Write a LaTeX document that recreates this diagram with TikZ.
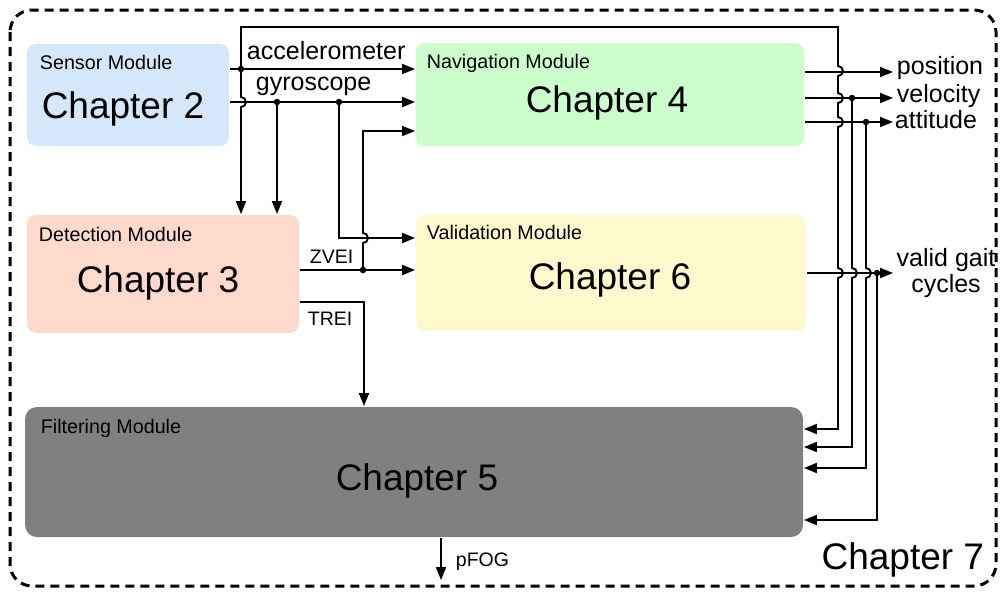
\documentclass[tikz,border=0pt]{standalone}
\usepackage{fontspec}
\setmainfont{Liberation Sans}
\usetikzlibrary{arrows.meta}
\definecolor{sensorc}{RGB}{213,232,250}
\definecolor{detectc}{RGB}{253,218,204}
\definecolor{navc}{RGB}{204,255,204}
\definecolor{validc}{RGB}{255,249,206}
\definecolor{filtc}{RGB}{128,128,128}
\begin{document}
\begin{tikzpicture}[x=1pt,y=-1pt, line width=1.9pt,
  box/.style={rectangle, rounded corners=9pt, draw=none, inner sep=0pt},
  arr/.style={-{Triangle[length=13pt,width=10pt]}},
  dot/.style={circle, fill=black, inner sep=0pt, minimum size=6.5pt},
  modtitle/.style={font=\fontsize{19.7}{22}\selectfont, anchor=base west, inner sep=0pt},
  chap/.style={font=\fontsize{37}{40}\selectfont, anchor=base, inner sep=0pt},
  lbl/.style={font=\fontsize{25}{27}\selectfont, anchor=base west, inner sep=0pt},
  small/.style={font=\fontsize{19.5}{22}\selectfont, anchor=base west, inner sep=0pt}]
\useasboundingbox (0,0) rectangle (1000,592);

% outer frame
\draw[line width=3pt, dash pattern=on 9pt off 6pt, rounded corners=22pt] (10,10) rectangle (996,586);
\node[chap, anchor=base east] (ch7) at (985,569) {Chapter 7};

% boxes
\node[box, fill=sensorc, minimum width=202pt, minimum height=102pt] (sensor) at (128,95) {};
\node[box, fill=detectc, minimum width=272pt, minimum height=118pt] (detect) at (163,274) {};
\node[box, fill=navc, minimum width=388pt, minimum height=103pt] (nav) at (610,94.5) {};
\node[box, fill=validc, minimum width=390pt, minimum height=116pt] (valid) at (611,273) {};
\node[box, fill=filtc, minimum width=778pt, minimum height=130pt, rounded corners=12pt] (filt) at (414,472) {};

% box texts
\node[modtitle] (sensorT) at (39,69) {Sensor Module};
\node[chap] (sensorC) at (123,118) {Chapter 2};
\node[modtitle] (detectT) at (38,241) {Detection Module};
\node[chap] (detectC) at (158,292) {Chapter 3};
\node[modtitle] (navT) at (426,68) {Navigation Module};
\node[chap] (navC) at (607,112) {Chapter 4};
\node[modtitle] (validT) at (426,239) {Validation Module};
\node[chap] (validC) at (610,289) {Chapter 6};
\node[modtitle] (filtT) at (40,433) {Filtering Module};
\node[chap] (filtC) at (417,490) {Chapter 5};

% junction coordinates
\coordinate (jA) at (241,69);
\coordinate (jG1) at (277,102);
\coordinate (jG2) at (339,102);
\coordinate (jZ) at (363,270);
\coordinate (jV) at (852,98);
\coordinate (jT) at (866,122);
\coordinate (jC) at (877,273);
\coordinate (outP) at (893,72);
\coordinate (outV) at (893,98);
\coordinate (outT) at (893,122);
\coordinate (outC) at (893,273);
\coordinate (pfogEnd) at (441,580);

% accelerometer
\draw (sensor.east |- jA) -- (jA);
\draw[arr] (jA) -- (nav.west |- jA);
\node[lbl] (accL) at (246,59) {accelerometer};
% accelerometer to detection (hops over gyroscope)
\draw[arr] (jA) -- (241,97) arc[start angle=90, end angle=-90, radius=5pt] -- (detect.north -| jA);
% accelerometer to filtering (long route)
\draw[arr] (jA) -- (241,27) -- (838,27) -- (838,66)
  arc[start angle=90, end angle=-90, radius=5pt] -- (838,93)
  arc[start angle=90, end angle=-90, radius=5pt] -- (838,117)
  arc[start angle=90, end angle=-90, radius=5pt] -- (838,268)
  arc[start angle=90, end angle=-90, radius=5pt] -- (838,429) -- (filt.east |- 0,429);

% gyroscope
\draw[arr] (sensor.east |- jG1) -- (nav.west |- jG1);
\node[lbl] (gyrL) at (255,90) {gyroscope};
\draw[arr] (jG1) -- (detect.north -| jG1);
\draw[arr] (jG2) -- (339,238) -- (valid.west |- 0,238);

% ZVEI
\draw[arr] (detect.east |- jZ) -- (valid.west |- jZ);
\node[small] (zveiL) at (309,263) {ZVEI};
\draw[arr] (jZ) -- (363,243) arc[start angle=-90, end angle=90, radius=5pt] -- (363,131) -- (nav.west |- 0,131);

% TREI
\draw[arr] (detect.east |- 0,302) -- (364,302) -- (filt.north -| 364,0);
\node[small] (treiL) at (307,325) {TREI};

% navigation outputs
\draw[arr] (nav.east |- outP) -- (outP);
\draw[arr] (nav.east |- outV) -- (outV);
\draw[arr] (nav.east |- outT) -- (outT);
\node[lbl] (posL) at (896,74) {position};
\node[lbl] (velL) at (896,102) {velocity};
\node[lbl] (attL) at (894,128) {attitude};

% validation output
\draw[arr] (valid.east |- outC) -- (outC);
\node[lbl, anchor=base, align=center] (gaitL) at (946,292) {valid gait\\[-1pt]cycles};

% feedback to filtering
\draw[arr] (jV) -- (852,268) arc[start angle=90, end angle=-90, radius=5pt] -- (852,447) -- (filt.east |- 0,447);
\draw[arr] (jT) -- (866,268) arc[start angle=90, end angle=-90, radius=5pt] -- (866,468) -- (filt.east |- 0,468);
\draw[arr] (jC) -- (877,520) -- (filt.east |- 0,520);

% pFOG
\draw[arr] (filt.south -| pfogEnd) -- (pfogEnd);
\node[small] (pfogL) at (455,566) {pFOG};

% dots
\foreach \c in {jA,jG1,jG2,jZ,jV,jT,jC} \node[dot] at (\c) {};
\end{tikzpicture}
\end{document}
